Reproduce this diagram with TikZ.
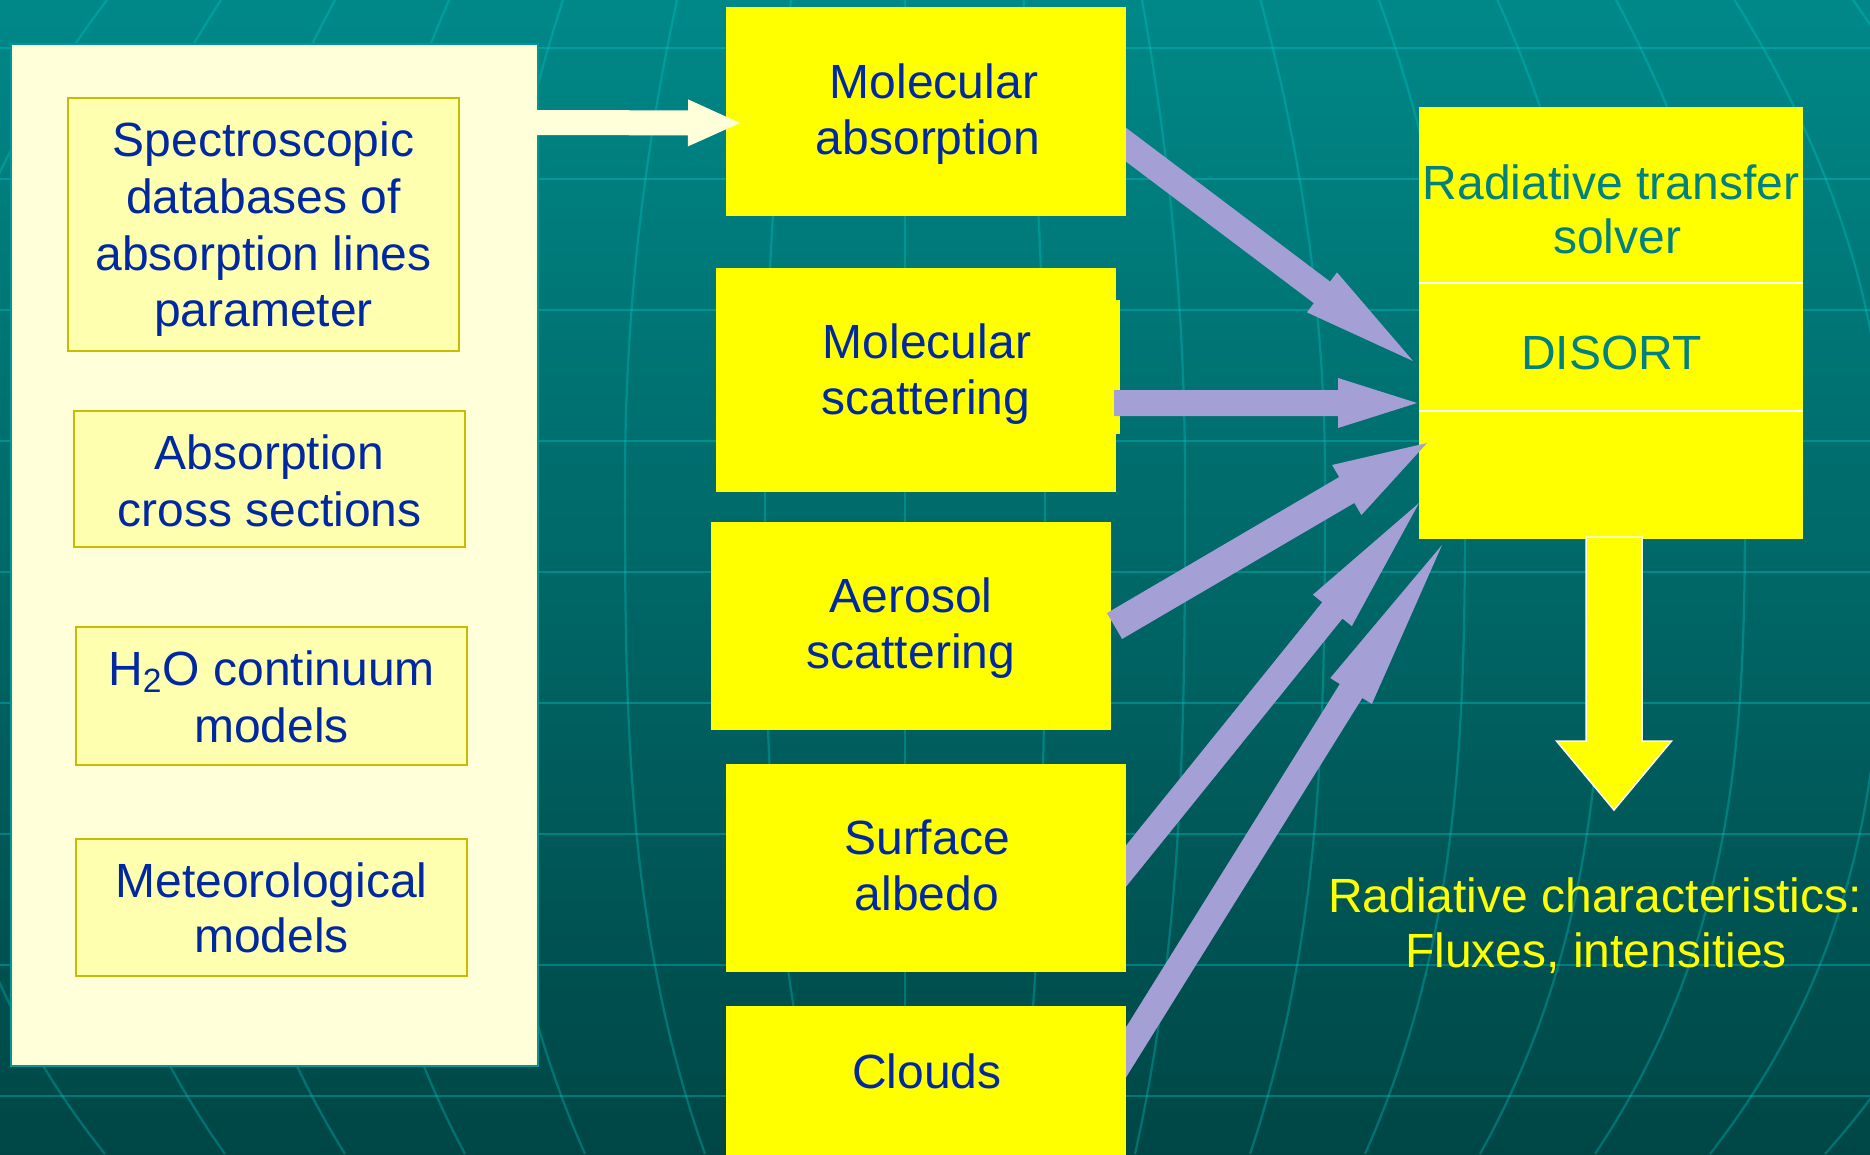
\documentclass[tikz,border=0pt]{standalone}
\usepackage{fontspec}
\setmainfont{Liberation Sans}
\usetikzlibrary{calc}
\definecolor{bgtop}{RGB}{0,136,136}
\definecolor{bgbot}{RGB}{0,70,70}
\definecolor{gridc}{RGB}{0,205,205}
\definecolor{cream}{RGB}{255,255,218}
\definecolor{paleyel}{RGB}{255,255,176}
\definecolor{olivec}{RGB}{200,188,0}
\definecolor{txtblue}{RGB}{0,40,160}
\definecolor{tealtxt}{RGB}{0,128,128}
\definecolor{lav}{RGB}{164,160,214}
\definecolor{panelborder}{RGB}{0,150,150}
\definecolor{pureyellow}{RGB}{255,255,0}
% #1 tail, #2 tip, #3 shaft half width, #4 head half width, #5 head length, #6 style
\newcommand\blockarr[6]{%
  \coordinate (hb) at ($(#2)!#5!(#1)$);
  \fill[#6] ($(#1)!#3!90:(#2)$) -- ($(hb)!#3!90:(#2)$) -- ($(hb)!#4!90:(#2)$) -- (#2)
    -- ($(hb)!#4!-90:(#2)$) -- ($(hb)!#3!-90:(#2)$) -- ($(#1)!#3!-90:(#2)$) -- cycle;}
% #1 name, #2 style, #3 x0, #4 y0, #5 x1, #6 y1
\newcommand\rectnode[6]{%
  \node[#2, minimum width={(#5-#3)*0.4pt}, minimum height={(#6-#4)*0.4pt}] (#1)
    at ({(#3+#5)/2},{(#4+#6)/2}) {};}
\begin{document}
\begin{tikzpicture}[x=0.4pt,y=-0.4pt,
  gridline/.style={draw=gridc, draw opacity=0.36, line width=1.1pt},
  meridian/.style={draw=gridc, draw opacity=0.32, line width=0.9pt},
  ybox/.style={rectangle, fill=pureyellow, draw=none, inner sep=0pt, outer sep=0pt},
  panel/.style={rectangle, fill=cream, draw=panelborder, line width=0.8pt, inner sep=0pt},
  srcbox/.style={rectangle, fill=paleyel, draw=olivec, line width=0.8pt, inner sep=0pt},
  txt/.style={font=\fontsize{19.2}{22.4}\selectfont, inner sep=0pt, anchor=base},
  bt/.style={txt, text=txtblue},
  tt/.style={txt, text=tealtxt},
  yt/.style={txt, text=pureyellow},
  lavfill/.style={fill=lav},
]
\useasboundingbox (0,0) rectangle (1870,1154);
\clip (0,0) rectangle (1870,1154);
% background
\shade[top color=bgtop, bottom color=bgbot] (0,0) rectangle (1870,1154);
\foreach \yy in {48,179,310,441,572,703,834,965,1096}
  \draw[gridline] (0,\yy) -- (1870,\yy);
\foreach \i in {-7,...,8}{
  \pgfmathsetmacro\mE{905+140*\i}
  \pgfmathsetmacro\mT{\i<0 ? -26*\i : -21.5*\i}
  \pgfmathsetmacro\mB{\i<0 ? -20*\i+40 : -25*\i}
  \draw[meridian] plot[domain=0:480, samples=25, smooth, variable=\vv] ({\mE+\mT*((480-\vv)/480)^2},{\vv});
  \draw[meridian] plot[domain=480:1154, samples=30, smooth, variable=\vv] ({\mE+\mB*((\vv-480)/674)^3},{\vv});
}
% arrow end points
\coordinate (a1s) at (1080,110);   \coordinate (a1e) at (1413,361);
\coordinate (a2s) at (1114,403);   \coordinate (a2e) at (1417,403);
\coordinate (a3s) at (1114.5,626); \coordinate (a3e) at (1427,443);
\coordinate (a4s) at (1101,897);   \coordinate (a4e) at (1419,503);
\coordinate (a5s) at (1105,1086);  \coordinate (a5e) at (1442,545);
\coordinate (ws) at (525,122.5);   \coordinate (we) at (740,123);
\coordinate (ds) at (1614,537);    \coordinate (de) at (1614,810);
% arrows behind boxes
\blockarr{a1s}{a1e}{5.4pt}{10pt}{45.6pt}{lavfill}
\blockarr{a4s}{a4e}{5.2pt}{10pt}{55.2pt}{lavfill}
\blockarr{a5s}{a5e}{5.3pt}{9.8pt}{68.8pt}{lavfill}
% left panel
\rectnode{panel}{panel}{11}{44}{538}{1066}
\rectnode{spec}{srcbox}{68}{98}{459}{351}
\rectnode{abs}{srcbox}{74}{411}{465}{547}
\rectnode{hto}{srcbox}{76}{627}{467}{765}
\rectnode{met}{srcbox}{76}{839}{467}{976}
% middle boxes
\rectnode{mabs}{ybox}{726}{7}{1126}{216}
\rectnode{msc}{ybox}{716}{268}{1116}{492}
\rectnode{mscn}{ybox}{1114}{300}{1120}{434}
\rectnode{aer}{ybox}{711}{522}{1111}{730}
\rectnode{surf}{ybox}{726}{764}{1126}{972}
\rectnode{cld}{ybox}{726}{1006}{1126}{1170}
% solver
\rectnode{solver}{ybox}{1419}{107}{1803}{539}
\draw[white, line width=0.8pt] (1419,283) -- (1803,283);
\draw[white, line width=0.8pt] (1419,411) -- (1803,411);
% arrows above boxes
\blockarr{a2s}{a2e}{5.2pt}{10pt}{31.6pt}{lavfill}
\blockarr{a3s}{a3e}{6pt}{11.6pt}{37.2pt}{lavfill}
\blockarr{ws}{we}{5pt}{9.4pt}{20.8pt}{fill=cream}
\blockarr{ds}{de}{11.2pt}{23pt}{27.6pt}{fill=pureyellow, draw=white, line width=0.6pt}
% texts
\node[bt] (t1) at (263.5,156) {Spectroscopic};
\node[bt] (t2) at (263.5,213) {databases of};
\node[bt] (t3) at (263.5,270) {absorption lines};
\node[bt] (t4) at (263.5,326) {parameter};
\node[bt] (t5) at (269.5,469) {Absorption};
\node[bt] (t6) at (269.5,526) {cross sections};
\node[bt] (t7) at (271.5,685) {H\textsubscript{2}O continuum};
\node[bt] (t8) at (271.5,742) {models};
\node[bt] (t9) at (271.5,897) {Meteorological};
\node[bt] (t10) at (271.5,952) {models};
\node[bt] (m1) at (934,98) {Molecular};
\node[bt] (m2) at (928,154) {absorption};
\node[bt] (m3) at (927,358) {Molecular};
\node[bt] (m4) at (926,414) {scattering};
\node[bt] (m5) at (911,612) {Aerosol};
\node[bt] (m6) at (911,668) {scattering};
\node[bt] (m7) at (927,854) {Surface};
\node[bt] (m8) at (927,910) {albedo};
\node[bt] (m9) at (927,1088) {Clouds};
\node[tt] (s1) at (1611,199) {Radiative transfer};
\node[tt] (s2) at (1617,253) {solver};
\node[tt] (s3) at (1611.5,369) {DISORT};
\node[yt] (o1) at (1595,912) {Radiative characteristics:};
\node[yt] (o2) at (1596,967) {Fluxes, intensities};
\end{tikzpicture}
\end{document}
